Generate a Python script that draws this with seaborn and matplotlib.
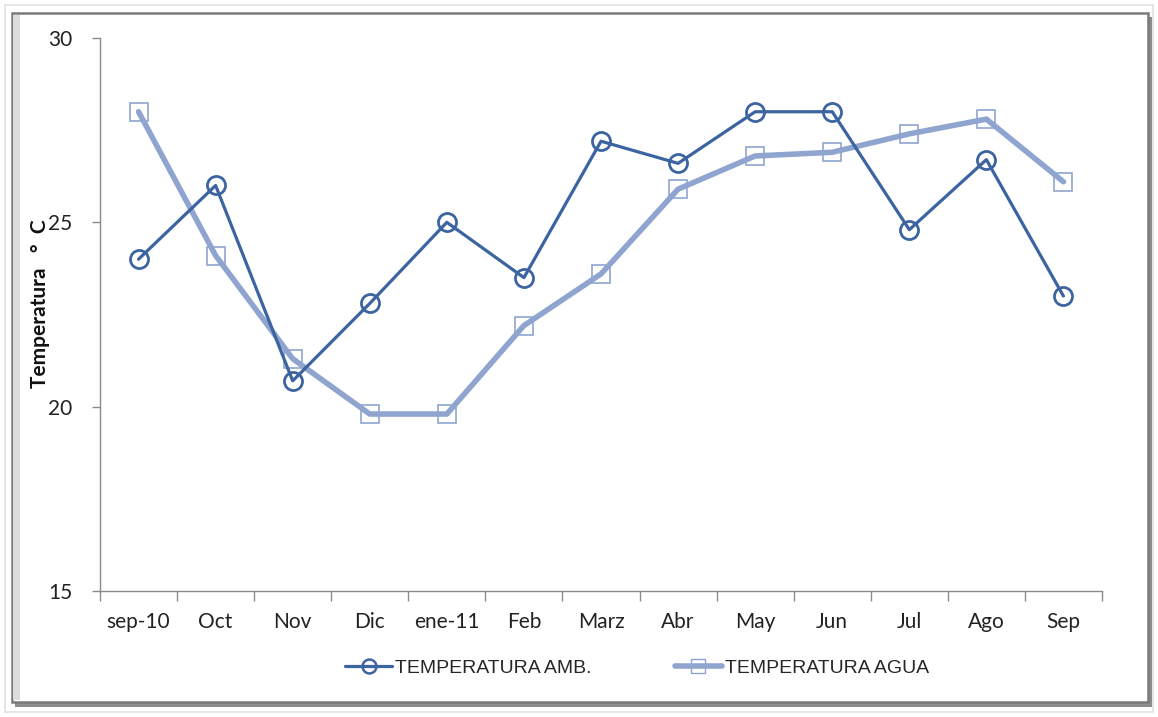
import matplotlib
matplotlib.use("Agg")
import matplotlib.pyplot as plt
from matplotlib.patches import Rectangle
from matplotlib.lines import Line2D
import seaborn as sns
import pandas as pd

# values
months = ["sep-10", "Oct", "Nov", "Dic", "ene-11", "Feb", "Marz",
          "Abr", "May", "Jun", "Jul", "Ago", "Sep"]
temp_amb = [24.0, 26.0, 20.7, 22.8, 25.0, 23.5, 27.2, 26.6, 28.0, 28.0, 24.8, 26.7, 23.0]
temp_agua = [28.0, 24.1, 21.3, 19.8, 19.8, 22.2, 23.6, 25.9, 26.8, 26.9, 27.4, 27.8, 26.1]
y_ticks = [15, 20, 25, 30]

AMB_COLOR = "#3C64A0"
AGUA_COLOR = "#8FA5CF"

sns.set_theme(style="white")
plt.rcParams["font.family"] = ["Lato", "DejaVu Sans"]

df = pd.DataFrame({"mes": months, "amb": temp_amb, "agua": temp_agua})

fig = plt.figure(figsize=(11.58, 7.17), dpi=100)
W, H = 1158, 717

def px_rect(x0, y0, x1, y1, **kw):
    # rectangle given in image pixels (y from top)
    r = Rectangle((x0 / W, 1 - y1 / H), (x1 - x0) / W, (y1 - y0) / H,
                  transform=fig.transFigure, zorder=-5, **kw)
    fig.patches.append(r)

# outer light frame and the chart box with shadow
px_rect(5, 5, 1153, 712, fill=False, edgecolor="#e2e2e2", lw=1.2)
px_rect(1146, 17, 1152, 707, facecolor="#8c8c8c", edgecolor="none")
px_rect(15, 700, 1152, 707, facecolor="#8c8c8c", edgecolor="none")
px_rect(12, 13, 1148, 702, facecolor="white", edgecolor="#7a7a7a", lw=1.8)
px_rect(13, 15, 20, 700, facecolor="#dcdcdc", edgecolor="none")

ax = fig.add_axes([100 / W, 1 - 591 / H, 1002 / W, 553 / H])
ax.set_facecolor("none")
ax.set_zorder(3)

# squares first so the water line sits on top of them
sns.lineplot(data=df, x="mes", y="agua", sort=False, ax=ax, linestyle="none",
             marker="s", markersize=13, markerfacecolor="white",
             markeredgecolor=AGUA_COLOR, markeredgewidth=1.2, zorder=2)
sns.lineplot(data=df, x="mes", y="agua", sort=False, ax=ax, color=AGUA_COLOR,
             lw=4, zorder=3)
sns.lineplot(data=df, x="mes", y="amb", sort=False, ax=ax, color=AMB_COLOR,
             lw=2.3, marker="o", markersize=13, markerfacecolor="none",
             markeredgecolor=AMB_COLOR, markeredgewidth=2, zorder=4)

ax.set_xlim(-0.5, len(months) - 0.5)
ax.set_ylim(15, 30)
ax.set_yticks(y_ticks)
ax.set_yticklabels([str(t) for t in y_ticks], fontsize=15, color="#222222")

# Excel style: ticks between categories, labels centered
ax.set_xticks([i - 0.5 for i in range(len(months) + 1)])
ax.set_xticklabels([])
ax.set_xticks(range(len(months)), minor=True)
ax.set_xticklabels(months, minor=True, fontsize=15, color="#222222")
ax.tick_params(axis="x", which="major", length=7, width=1, color="#8a8a8a",
               direction="out", bottom=True)
ax.tick_params(axis="x", which="minor", length=0, pad=15)
ax.tick_params(axis="y", length=6, width=1, color="#8a8a8a", direction="out",
               left=True, pad=14)

for s in ["top", "right"]:
    ax.spines[s].set_visible(False)
for s in ["left", "bottom"]:
    ax.spines[s].set_color("#8a8a8a")
    ax.spines[s].set_linewidth(1)

ax.set_xlabel("")
ax.set_ylabel("Temperatura   \u00b0  C", fontsize=15, fontweight="bold", color="#111111")
ax.yaxis.set_label_coords(-0.05, 0.52)

handles = [
    Line2D([], [], color=AMB_COLOR, lw=2.3, marker="o", markersize=10,
           markerfacecolor="none", markeredgewidth=1.8),
    Line2D([], [], color=AGUA_COLOR, lw=4, marker="s", markersize=10,
           markerfacecolor="none", markeredgewidth=1),
]
fig.legend(handles, ["TEMPERATURA AMB.", "TEMPERATURA AGUA"], loc="center",
           bbox_to_anchor=(637 / W, 1 - 668 / H), ncol=2, frameon=False,
           handlelength=2.4, handletextpad=0.15, columnspacing=4.3,
           prop={"family": ["Liberation Sans", "DejaVu Sans"], "size": 14})

fig.savefig("out.png", dpi=100)
